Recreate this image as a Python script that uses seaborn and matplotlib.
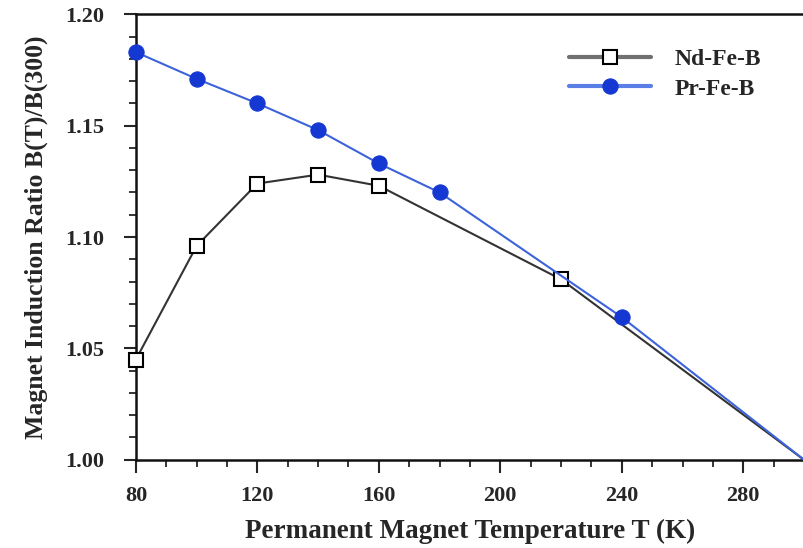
import pandas as pd
import matplotlib.pyplot as plt
import seaborn as sns

# temperatures (K) and B(T)/B(300) ratios
nd_temp = [80, 100, 120, 140, 160, 220, 300]
nd_ratio = [1.045, 1.096, 1.124, 1.128, 1.123, 1.081, 1.000]

pr_temp = [80, 100, 120, 140, 160, 180, 240, 300]
pr_ratio = [1.183, 1.171, 1.160, 1.148, 1.133, 1.120, 1.064, 1.000]

nd = pd.DataFrame({"T": nd_temp, "ratio": nd_ratio})
pr = pd.DataFrame({"T": pr_temp, "ratio": pr_ratio})

sns.set_style("ticks")
plt.rcParams["font.family"] = ["Liberation Serif", "DejaVu Serif"]
plt.rcParams["font.weight"] = "bold"

fig = plt.figure(figsize=(8.04, 5.48), dpi=100)
ax = fig.add_axes([0.169, 0.161, 0.831, 0.813])

sns.lineplot(data=nd, x="T", y="ratio", ax=ax, color="#333333", lw=1.5,
             marker="s", markersize=10, markerfacecolor="white",
             markeredgecolor="black", markeredgewidth=1.5, clip_on=False,
             markevery=list(range(len(nd_temp) - 1)), label="Nd-Fe-B", zorder=3)
sns.lineplot(data=pr, x="T", y="ratio", ax=ax, color="#3d63db", lw=1.5,
             marker="o", markersize=11, markerfacecolor="#1538d2",
             markeredgecolor="#1538d2", clip_on=False,
             markevery=list(range(len(pr_temp) - 1)), label="Pr-Fe-B", zorder=3)

ax.set_xlim(80, 300)
ax.set_ylim(1.0, 1.2)
ax.set_xticks([80, 120, 160, 200, 240, 280])
ax.set_xticks(range(90, 300, 10), minor=True)
ax.set_yticks([1.00, 1.05, 1.10, 1.15, 1.20])
ax.set_yticks([1.0 + 0.01 * i for i in range(21)], minor=True)
ax.set_yticklabels(["1.00", "1.05", "1.10", "1.15", "1.20"])
ax.tick_params(which="major", length=9, width=1.5, labelsize=16)
ax.tick_params(axis="y", which="major", pad=14)
ax.tick_params(axis="x", which="major", pad=10)
ax.tick_params(which="minor", length=5, width=1.3)
for lab in ax.get_xticklabels() + ax.get_yticklabels():
    lab.set_fontweight("bold")

ax.spines["right"].set_visible(False)
for s in ["left", "bottom", "top"]:
    ax.spines[s].set_linewidth(1.8)
    ax.spines[s].set_color("#111111")

ax.set_xlabel("Permanent Magnet Temperature T (K)", fontsize=19.5,
              fontweight="bold", labelpad=9)
ax.set_ylabel("Magnet Induction Ratio B(T)/B(300)", fontsize=18.5,
              fontweight="bold", labelpad=12)

leg = ax.legend(loc="upper left", bbox_to_anchor=(0.63, 0.95), frameon=False,
                borderpad=0, handlelength=3.5, handletextpad=1.0,
                labelspacing=0.35, prop={"size": 17, "weight": "bold"})
leg_lines = leg.get_lines()
leg_lines[0].set_color("#707070")
leg_lines[0].set_linewidth(3)
leg_lines[1].set_color("#5a7ee6")
leg_lines[1].set_linewidth(3)

fig.savefig("out.png", dpi=100)
